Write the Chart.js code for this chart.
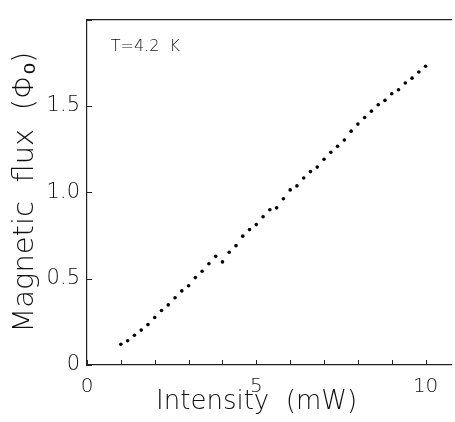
<!DOCTYPE html>
<html><head><meta charset="utf-8">
<script src="https://cdn.jsdelivr.net/npm/chart.js@4/dist/chart.umd.min.js"></script>
<style>html,body{margin:0;padding:0;background:#fff}#wrap{width:455px;height:422px;position:relative}</style>
</head><body><div id="wrap"><canvas id="c"></canvas></div>
<script>
// ---- data ----
const intensity = [1.0,1.2,1.4,1.6,1.8,2.0,2.2,2.4,2.6,2.8,3.0,3.2,3.4,3.6,3.8,4.0,4.2,4.4,4.6,4.8,
  5.0,5.2,5.4,5.6,5.8,6.0,6.2,6.4,6.6,6.8,7.0,7.2,7.4,7.6,7.8,8.0,8.2,8.4,8.6,8.8,9.0,9.2,9.4,9.6,9.8,10.0];
const flux = [0.120,0.140,0.172,0.202,0.234,0.275,0.316,0.348,0.389,0.429,0.459,0.506,0.543,0.586,0.629,
  0.597,0.653,0.691,0.746,0.784,0.813,0.858,0.899,0.910,0.963,1.014,1.037,1.083,1.120,1.146,1.191,1.232,
  1.266,1.303,1.354,1.395,1.433,1.470,1.507,1.532,1.571,1.594,1.633,1.661,1.697,1.730];
const xLabelled = [0, 5, 10];
const yLabels = {0: '0', 0.5: '0.5', 1: '1.0', 1.5: '1.5'};
const xTitle = 'Intensity  (mW)\u00A0\u00A0\u00A0';
const yTitle = 'Magnetic  flux  (\u03A6\u2092)';
const annotationText = 'T=4.2  K';
const annotationAt = [0.7, 1.84];

const FONT = '"DejaVu Sans", sans-serif';
const INK = '#111';

const inwardTicks = {
  id: 'inwardTicks',
  afterDatasetsDraw(chart) {
    const {ctx, chartArea, scales: {x, y}} = chart;
    ctx.save();
    ctx.strokeStyle = '#222';
    ctx.lineWidth = 1;
    ctx.beginPath();
    x.ticks.forEach(t => {
      const px = Math.round(x.getPixelForValue(t.value)) + 0.5;
      ctx.moveTo(px, chartArea.bottom); ctx.lineTo(px, chartArea.bottom - 5);
    });
    y.ticks.forEach(t => {
      const py = Math.round(y.getPixelForValue(t.value)) + 0.5;
      ctx.moveTo(chartArea.left, py); ctx.lineTo(chartArea.left + 5, py);
    });
    ctx.stroke();
    ctx.font = '200 16px ' + FONT;
    ctx.fillStyle = INK;
    ctx.textAlign = 'left';
    ctx.textBaseline = 'middle';
    ctx.fillText(annotationText, x.getPixelForValue(annotationAt[0]), y.getPixelForValue(annotationAt[1]));
    ctx.restore();
  }
};

new Chart(document.getElementById('c'), {
  type: 'scatter',
  data: {
    datasets: [{
      data: intensity.map((v, i) => ({x: v, y: flux[i]})),
      backgroundColor: '#000',
      borderColor: '#000',
      pointRadius: 1.8,
      pointBorderWidth: 0,
      showLine: false
    }]
  },
  options: {
    responsive: true,
    maintainAspectRatio: false,
    devicePixelRatio: 1,
    animation: false,
    layout: {padding: {left: 0, right: 2, top: 0, bottom: 0}},
    plugins: {legend: {display: false}, tooltip: {enabled: false}},
    scales: {
      x: {
        type: 'linear', position: 'bottom', min: 0, max: 10.75,
        afterFit: s => { s.height = 57; },
        grid: {display: true, drawOnChartArea: false, drawTicks: false},
        border: {display: true, color: '#222', width: 1.2},
        ticks: {
          stepSize: 1, includeBounds: false, autoSkip: false, maxRotation: 0, padding: 10,
          color: INK, font: {family: FONT, size: 20, weight: 200},
          callback: v => xLabelled.includes(v) ? String(v) : ''
        },
        title: {display: true, text: xTitle, color: INK,
          font: {family: FONT, size: 26, weight: 200}, padding: {top: 0, bottom: 4}}
      },
      xTop: {
        type: 'linear', position: 'top', min: 0, max: 10.75, display: true,
        afterFit: s => { s.height = 10; },
        grid: {display: true, drawOnChartArea: false, drawTicks: false},
        border: {display: true, color: '#222', width: 1.2},
        ticks: {display: false}
      },
      y: {
        type: 'linear', position: 'left', min: 0, max: 2.0,
        afterFit: s => { s.width = 87; },
        grid: {display: true, drawOnChartArea: false, drawTicks: false},
        border: {display: true, color: '#222', width: 1.2},
        ticks: {
          stepSize: 0.5, padding: 7, color: INK,
          font: {family: FONT, size: 21, weight: 200},
          callback: v => (v in yLabels) ? yLabels[v] : ''
        },
        title: {display: true, text: yTitle, color: INK,
          font: {family: FONT, size: 29, weight: 200}, padding: {top: 8, bottom: 0}}
      }
    }
  },
  plugins: [inwardTicks]
});
</script>
</body></html>
